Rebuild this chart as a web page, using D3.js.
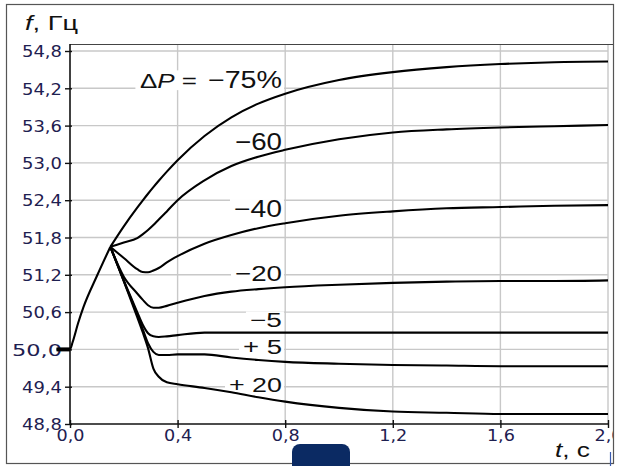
<!DOCTYPE html>
<html><head><meta charset="utf-8">
<script src="https://cdn.jsdelivr.net/npm/d3@7"></script>
<style>html,body{margin:0;padding:0;background:#fff;}svg{display:block;}</style>
</head><body>
<svg id="c" width="619" height="466"></svg>
<script>
// ---------- data ----------
const xTicks = [0, 0.4, 0.8, 1.2, 1.6, 2.0];
const yTicks = [48.8, 49.4, 50.0, 50.6, 51.2, 51.8, 52.4, 53.0, 53.6, 54.2, 54.8];
const xTickLabels = ["0,0", "0,4", "0,8", "1,2", "1,6", "2,0"];
const yTickLabels = ["48,8", "49,4", "50,0", "50,6", "51,2", "51,8", "52,4", "53,0", "53,6", "54,2", "54,8"];

// common initial rise
const tRise = [-0.05, 0, 0.01, 0.03, 0.05, 0.1, 0.15];
const fRise = [50.0, 50.0, 50.12, 50.42, 50.68, 51.18, 51.65];

// time grid after the common point
const tGrid = [0.15, 0.2, 0.25, 0.27, 0.29, 0.31, 0.33, 0.36, 0.4, 0.5, 0.6, 0.7, 0.8, 1.0, 1.2, 1.4, 1.6, 1.8, 2.0];
const fM75 = [51.65, 51.98, 52.28, 52.394, 52.504, 52.61, 52.712, 52.859, 53.043, 53.433, 53.733, 53.953, 54.113, 54.333, 54.46, 54.54, 54.59, 54.62, 54.63];
const fM60 = [51.65, 51.72, 51.79, 51.85, 51.92, 52.00, 52.09, 52.22, 52.40, 52.72, 52.95, 53.10, 53.21, 53.38, 53.49, 53.54, 53.57, 53.59, 53.61];
const fM40 = [51.65, 51.47, 51.29, 51.245, 51.24, 51.27, 51.31, 51.40, 51.50, 51.70, 51.84, 51.95, 52.03, 52.15, 52.22, 52.27, 52.29, 52.31, 52.32];
const fM20 = [51.65, 51.17, 50.90, 50.80, 50.71, 50.67, 50.67, 50.70, 50.75, 50.86, 50.93, 50.97, 51.00, 51.04, 51.07, 51.09, 51.10, 51.10, 51.11];
const fM5  = [51.65, 51.11, 50.60, 50.40, 50.26, 50.21, 50.20, 50.21, 50.23, 50.27, 50.27, 50.27, 50.27, 50.27, 50.27, 50.27, 50.27, 50.27, 50.27];
const fP5  = [51.65, 51.10, 50.56, 50.33, 50.10, 49.96, 49.91, 49.91, 49.92, 49.92, 49.87, 49.83, 49.80, 49.77, 49.75, 49.74, 49.73, 49.73, 49.73];
const fP20 = [51.65, 51.10, 50.52, 50.28, 50.02, 49.69, 49.56, 49.47, 49.44, 49.38, 49.31, 49.23, 49.16, 49.06, 49.00, 48.98, 48.96, 48.96, 48.96];

const curveLabels = ["\u221275%", "\u221260", "\u221240", "\u221220", "\u22125", "+ 5", "+ 20"];
const labelF = [54.20, 53.21, 52.13, 51.10, 50.36, 49.93, 49.31]; // baseline value of each label
const labelT = 0.788;

// ---------- drawing ----------
const svg = d3.select("#c");
const x = d3.scaleLinear().domain([0, 2]).range([70, 608]);
const y = d3.scaleLinear().domain([48.8, 54.8]).range([424, 51]);
const yTop = 44;

// outer frame
svg.append("rect").attr("x", 6.5).attr("y", 4.5).attr("width", 607).attr("height", 459)
  .attr("fill", "#fff").attr("stroke", "#555").attr("stroke-width", 1.2);

svg.append("defs").append("clipPath").attr("id", "fr")
  .append("rect").attr("x", 7).attr("y", 5).attr("width", 606).attr("height", 458);
const g = svg.append("g").attr("clip-path", "url(#fr)");

// grid
g.append("g").selectAll("line").data(yTicks.slice(1)).join("line")
  .attr("x1", x(0)).attr("x2", x(2)).attr("y1", d => y(d)).attr("y2", d => y(d))
  .attr("stroke", "#c8c8c8").attr("stroke-width", 1.4);
g.append("g").selectAll("line").data(xTicks.slice(1)).join("line")
  .attr("x1", d => x(d)).attr("x2", d => x(d)).attr("y1", yTop).attr("y2", y(48.8))
  .attr("stroke", "#c8c8c8").attr("stroke-width", 1.4);

// top border of plot
g.append("line").attr("x1", x(0)).attr("x2", 613).attr("y1", yTop + 0.5).attr("y2", yTop + 0.5)
  .attr("stroke", "#444").attr("stroke-width", 1.2);

// axes (ticks and labels)
const yAxis = d3.axisLeft(y).tickValues(yTicks).tickSize(5).tickFormat((d, i) => yTickLabels[i]);
const ya = g.append("g").attr("transform", `translate(${x(0)},0)`).call(yAxis);
ya.select(".domain").remove();
ya.selectAll(".tick line").attr("x2", -5).attr("x1", 2).attr("stroke", "#111").attr("stroke-width", 1.4);
ya.selectAll(".tick text").attr("x", -8).attr("dy", "0.38em")
  .attr("font-family", "DejaVu Sans, Verdana, sans-serif").attr("font-size", 15)
  .attr("fill", "#1e2050")
  .attr("textLength", (d, i) => yTickLabels[i] === "50,0" ? 50 : 40)
  .attr("lengthAdjust", "spacingAndGlyphs");

const xAxis = d3.axisBottom(x).tickValues(xTicks).tickSize(4).tickFormat((d, i) => xTickLabels[i]);
const xa = g.append("g").attr("transform", `translate(0,${y(48.8)})`).call(xAxis);
xa.select(".domain").remove();
xa.selectAll(".tick line").attr("y1", -4).attr("y2", 4).attr("stroke", "#111").attr("stroke-width", 1.4);
xa.selectAll(".tick text").attr("y", 6).attr("dy", "0.71em")
  .attr("font-family", "DejaVu Sans, Verdana, sans-serif").attr("font-size", 15)
  .attr("fill", "#1e2050")
  .attr("textLength", 28).attr("lengthAdjust", "spacingAndGlyphs");

// axis lines
g.append("line").attr("x1", x(0)).attr("x2", x(0)).attr("y1", yTop).attr("y2", y(48.8) + 1)
  .attr("stroke", "#111").attr("stroke-width", 1.6);
g.append("line").attr("x1", x(0)).attr("x2", x(2)).attr("y1", y(48.8)).attr("y2", y(48.8))
  .attr("stroke", "#111").attr("stroke-width", 1.6);

// curves
const line = d3.line().x(d => x(d[0])).y(d => y(d[1])).curve(d3.curveMonotoneX);
const series = [fM75, fM60, fM40, fM20, fM5, fP5, fP20];
const riseData = tRise.map((t, i) => [t, fRise[i]]);
g.append("path").datum(riseData.filter(d => d[0] <= 0)).attr("d", line)
  .attr("fill", "none").attr("stroke", "#000").attr("stroke-width", 4);

// label backgrounds + labels
const labelStyle = [
  {size: 23, len: 74}, {size: 24, len: 47}, {size: 23, len: 48}, {size: 22, len: 47},
  {size: 20, len: 32}, {size: 20, len: 39}, {size: 21, len: 53}
];
const lg = g.append("g");
curveLabels.forEach((lab, i) => {
  const st = labelStyle[i];
  const xr = x(labelT), yb = y(labelF[i]);
  let x0 = xr - st.len;
  if (i === 0) x0 = x(0.258);
  lg.append("rect").attr("x", x0 - 4).attr("y", yb - st.size * 0.78)
    .attr("width", xr - x0 + 6).attr("height", st.size * 0.86).attr("fill", "#fff");
});
series.forEach(s => {
  g.append("path").datum(tGrid.map((t, i) => [t, s[i]])).attr("d", line)
    .attr("fill", "none").attr("stroke", "#000").attr("stroke-width", 2.1)
    .attr("stroke-linejoin", "round");
});
g.append("path").datum(riseData).attr("d", line)
  .attr("fill", "none").attr("stroke", "#000").attr("stroke-width", 2.1);

curveLabels.forEach((lab, i) => {
  const st = labelStyle[i];
  lg.append("text").attr("x", x(labelT)).attr("y", y(labelF[i]))
    .attr("text-anchor", "end")
    .attr("font-family", "Liberation Sans, Arial, sans-serif").attr("font-size", st.size)
    .attr("fill", "#111")
    .attr("textLength", st.len).attr("lengthAdjust", "spacingAndGlyphs")
    .text(lab);
});
// ΔP = prefix
const dp = lg.append("text").attr("x", 140).attr("y", y(labelF[0]))
  .attr("font-family", "Liberation Sans, Arial, sans-serif").attr("font-size", 21).attr("fill", "#111")
  .attr("textLength", 57).attr("lengthAdjust", "spacingAndGlyphs");
dp.append("tspan").text("\u0394");
dp.append("tspan").attr("font-style", "italic").text("P");
dp.append("tspan").text(" =");

// axis titles
const ft = svg.append("text").attr("x", 25).attr("y", 30)
  .attr("font-family", "Liberation Sans, Arial, sans-serif").attr("font-size", 21).attr("fill", "#111")
  .attr("textLength", 53).attr("lengthAdjust", "spacingAndGlyphs");
ft.append("tspan").attr("font-style", "italic").text("f");
ft.append("tspan").text(", \u0413\u0446");

const tt = svg.append("text").attr("x", 555).attr("y", 457)
  .attr("font-family", "Liberation Sans, Arial, sans-serif").attr("font-size", 21).attr("fill", "#111")
  .attr("textLength", 35).attr("lengthAdjust", "spacingAndGlyphs");
tt.append("tspan").attr("font-style", "italic").text("t");
tt.append("tspan").text(", c");

// overlay artefacts seen in the picture
svg.append("rect").attr("x", 292).attr("y", 444).attr("width", 58).attr("height", 30).attr("rx", 8)
  .attr("fill", "#0b2a63");
svg.append("line").attr("x1", 610.5).attr("x2", 610.5).attr("y1", 452).attr("y2", 466)
  .attr("stroke", "#3a5bb0").attr("stroke-width", 1.2);
</script>
</body></html>
